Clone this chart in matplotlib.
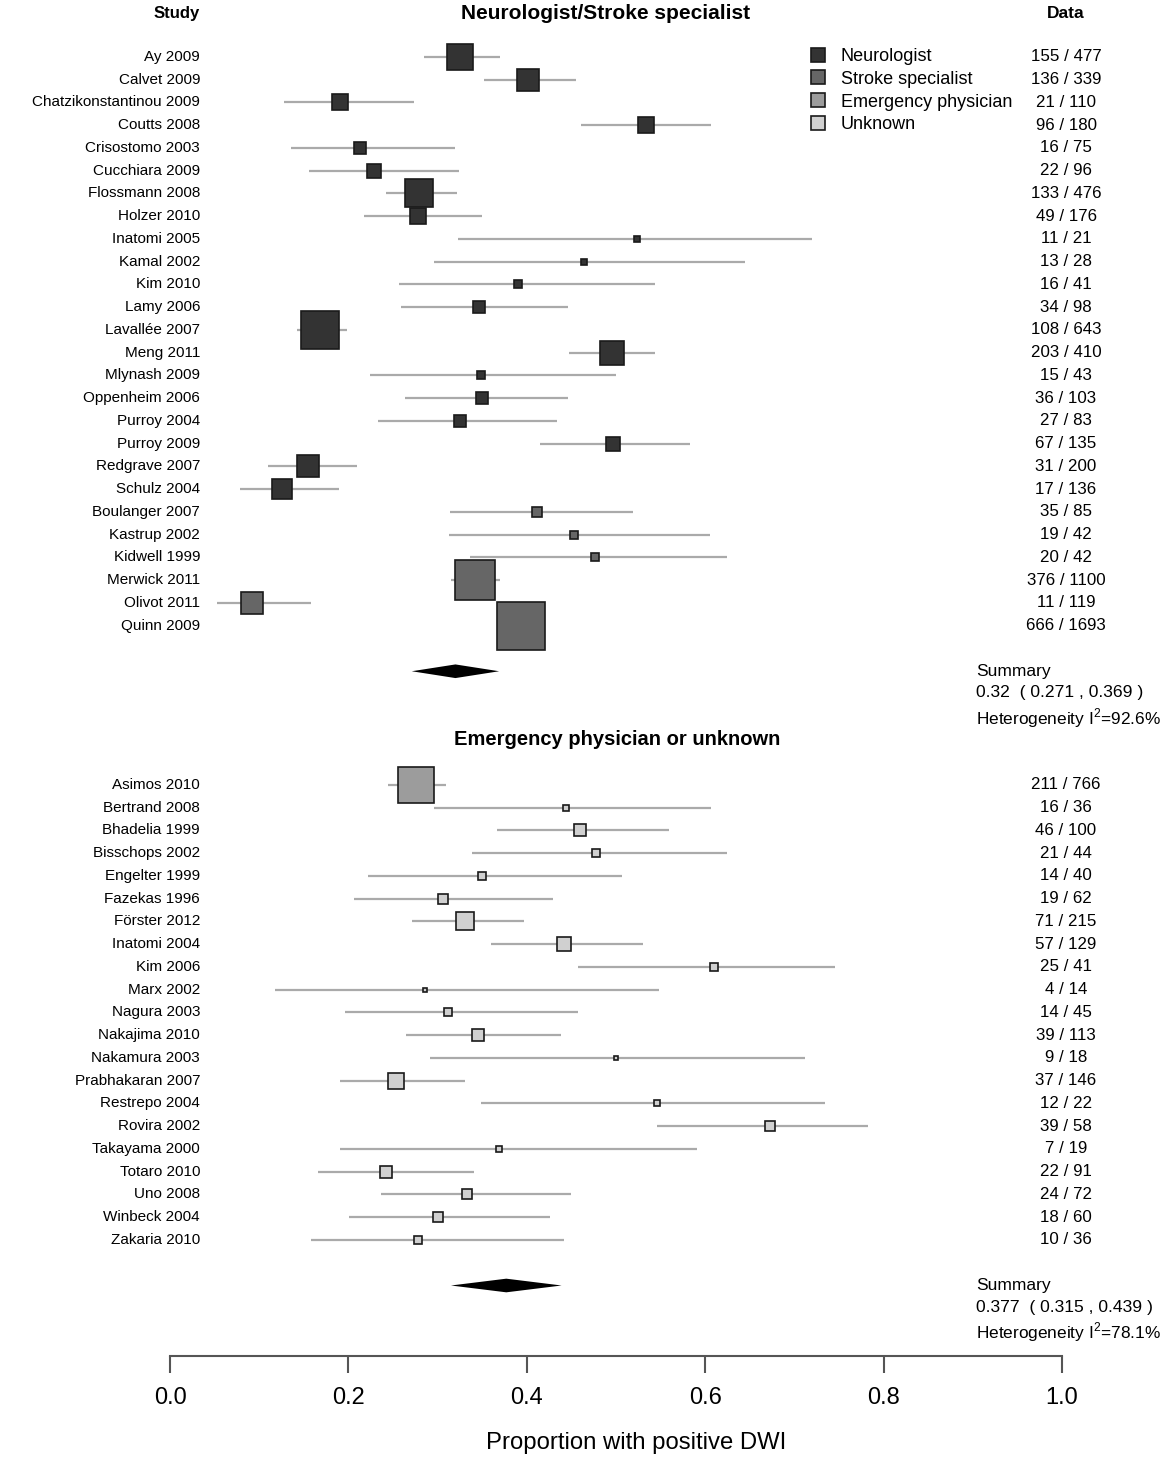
import matplotlib
matplotlib.use("Agg")
import matplotlib.pyplot as plt
from matplotlib.lines import Line2D
import numpy as np

plt.rcParams['font.family'] = ['Liberation Sans', 'DejaVu Sans']
plt.rcParams['mathtext.fontset'] = 'custom'
plt.rcParams['mathtext.rm'] = 'Liberation Sans'

# ---- group 1: neurologist / stroke specialist ----
studies1 = ["Ay 2009", "Calvet 2009", "Chatzikonstantinou 2009", "Coutts 2008", "Crisostomo 2003",
            "Cucchiara 2009", "Flossmann 2008", "Holzer 2010", "Inatomi 2005", "Kamal 2002",
            "Kim 2010", "Lamy 2006", "Lavallée 2007", "Meng 2011", "Mlynash 2009",
            "Oppenheim 2006", "Purroy 2004", "Purroy 2009", "Redgrave 2007", "Schulz 2004",
            "Boulanger 2007", "Kastrup 2002", "Kidwell 1999", "Merwick 2011", "Olivot 2011", "Quinn 2009"]
events1 = [155, 136, 21, 96, 16, 22, 133, 49, 11, 13, 16, 34, 108, 203, 15, 36, 27, 67, 31, 17,
           35, 19, 20, 376, 11, 666]
totals1 = [477, 339, 110, 180, 75, 96, 476, 176, 21, 28, 41, 98, 643, 410, 43, 103, 83, 135, 200, 136,
           85, 42, 42, 1100, 119, 1693]
lo1 = [0.285, 0.352, 0.128, 0.461, 0.136, 0.156, 0.242, 0.218, 0.323, 0.296, 0.257, 0.259, 0.142, 0.447,
       0.224, 0.263, 0.233, 0.415, 0.110, 0.078, 0.314, 0.313, 0.336, 0.315, 0.053, 0.370]
hi1 = [0.370, 0.455, 0.274, 0.606, 0.320, 0.324, 0.322, 0.350, 0.720, 0.645, 0.544, 0.446, 0.198, 0.544,
       0.500, 0.446, 0.434, 0.583, 0.210, 0.190, 0.519, 0.605, 0.624, 0.370, 0.158, 0.417]
cat1 = ["Neurologist"] * 20 + ["Stroke specialist"] * 6
summary1 = (0.32, 0.271, 0.369)
i2_1 = "92.6%"

# ---- group 2: emergency physician or unknown ----
studies2 = ["Asimos 2010", "Bertrand 2008", "Bhadelia 1999", "Bisschops 2002", "Engelter 1999",
            "Fazekas 1996", "Förster 2012", "Inatomi 2004", "Kim 2006", "Marx 2002", "Nagura 2003",
            "Nakajima 2010", "Nakamura 2003", "Prabhakaran 2007", "Restrepo 2004", "Rovira 2002",
            "Takayama 2000", "Totaro 2010", "Uno 2008", "Winbeck 2004", "Zakaria 2010"]
events2 = [211, 16, 46, 21, 14, 19, 71, 57, 25, 4, 14, 39, 9, 37, 12, 39, 7, 22, 24, 18, 10]
totals2 = [766, 36, 100, 44, 40, 62, 215, 129, 41, 14, 45, 113, 18, 146, 22, 58, 19, 91, 72, 60, 36]
lo2 = [0.244, 0.296, 0.367, 0.339, 0.222, 0.206, 0.271, 0.360, 0.457, 0.118, 0.196, 0.265, 0.291, 0.191,
       0.349, 0.546, 0.191, 0.166, 0.237, 0.201, 0.158]
hi2 = [0.309, 0.606, 0.559, 0.624, 0.507, 0.429, 0.397, 0.530, 0.746, 0.548, 0.457, 0.438, 0.712, 0.331,
       0.734, 0.783, 0.591, 0.341, 0.450, 0.426, 0.442]
cat2 = ["Emergency physician"] + ["Unknown"] * 20
summary2 = (0.377, 0.315, 0.439)
i2_2 = "78.1%"

colors = {"Neurologist": "#333333", "Stroke specialist": "#666666",
          "Emergency physician": "#9c9c9c", "Unknown": "#d0d0d0"}

fig = plt.figure(figsize=(11.67, 14.62), dpi=100)
# axes covers the plotting region down to the x axis line
ax = fig.add_axes([0, 1 - 1356 / 1462, 1, 1356 / 1462])
ax.set_xlim(-170 / 892, 997 / 892)
ax.set_ylim((1356 - 57) / 22.75, -57 / 22.75)

for s in ["top", "left", "right"]:
    ax.spines[s].set_visible(False)
ax.spines["bottom"].set_bounds(0, 1)
ax.spines["bottom"].set_color("#555555")
ax.spines["bottom"].set_linewidth(1.5)
ax.set_yticks([])
ax.set_xticks(np.linspace(0, 1, 6))
ax.set_xticklabels([f"{v:.1f}" for v in np.linspace(0, 1, 6)])
ax.tick_params(axis="x", length=12, width=1.5, color="#555555", labelsize=17, pad=10)
ax.set_xlabel("Proportion with positive DWI", fontsize=17.2, labelpad=17)
ax.xaxis.label.set_x(636 / 1167)

name_x = 30 / 892
data_x = 896 / 892
summ_x = 806 / 892
fs = 11


def draw_group(studies, events, totals, lo, hi, cats, start):
    rows = start + np.arange(len(studies))
    e = np.array(events)
    n = np.array(totals)
    p = e / n
    se = np.sqrt(p * (1 - p) / n)
    side = 0.57 / se * 0.72  # box side in points, proportional to 1/se
    for r, pi, l, h, c, s, name, ev, tot in zip(rows, p, lo, hi, cats, side, studies, events, totals):
        ax.plot([l, h], [r, r], color="#aaaaaa", lw=1.6, solid_capstyle="butt", zorder=1)
        ax.plot(pi, r, marker="s", ms=s, mfc=colors[c], mec="#1a1a1a", mew=1.2, ls="", zorder=2)
        ax.text(name_x, r, name, ha="right", va="center", fontsize=fs)
        ax.text(data_x, r, f"{ev} / {tot}", ha="center", va="center", fontsize=12.2)
    return rows[-1]


def draw_summary(summ, i2, row):
    est, l, h = summ
    ax.fill([l, est, h, est], [row, row - 0.3, row, row + 0.3], color="black", lw=0, zorder=3)
    ax.text(summ_x, row, "Summary", ha="left", va="center", fontsize=12.5)
    ax.text(summ_x, row + 0.95, f"{est}  ( {l} , {h} )", ha="left", va="center", fontsize=12.6)
    ax.text(summ_x, row + 2.05, "Heterogeneity I$^2$=" + i2, ha="left", va="center", fontsize=12.4)


last1 = draw_group(studies1, events1, totals1, lo1, hi1, cat1, 0)
draw_summary(summary1, i2_1, last1 + 2)
ax.text(617 / 892 - 170 / 892, last1 + 5, "Emergency physician or unknown", ha="center", va="center",
        fontsize=14.5, fontweight="bold")
last2 = draw_group(studies2, events2, totals2, lo2, hi2, cat2, last1 + 7)
draw_summary(summary2, i2_2, last2 + 2)

# headers
ax.text(name_x, -1.9, "Study", ha="right", va="center", fontsize=12, fontweight="bold")
ax.text(0.488, -1.9, "Neurologist/Stroke specialist", ha="center", va="center", fontsize=15, fontweight="bold")
ax.text(data_x, -1.9, "Data", ha="center", va="center", fontsize=12.5, fontweight="bold")

handles = [Line2D([], [], marker="s", ls="", ms=10, mfc=colors[k], mec="#1a1a1a", mew=1.2)
           for k in colors]
ax.legend(handles, list(colors), loc="upper left", bbox_to_anchor=(810 / 1167, 1 - 48 / 1462),
          bbox_transform=fig.transFigure, frameon=False, fontsize=13, handlelength=0.9,
          handletextpad=0.8, labelspacing=0.32, borderpad=0, borderaxespad=0)

fig.savefig("out.png", dpi=100)
